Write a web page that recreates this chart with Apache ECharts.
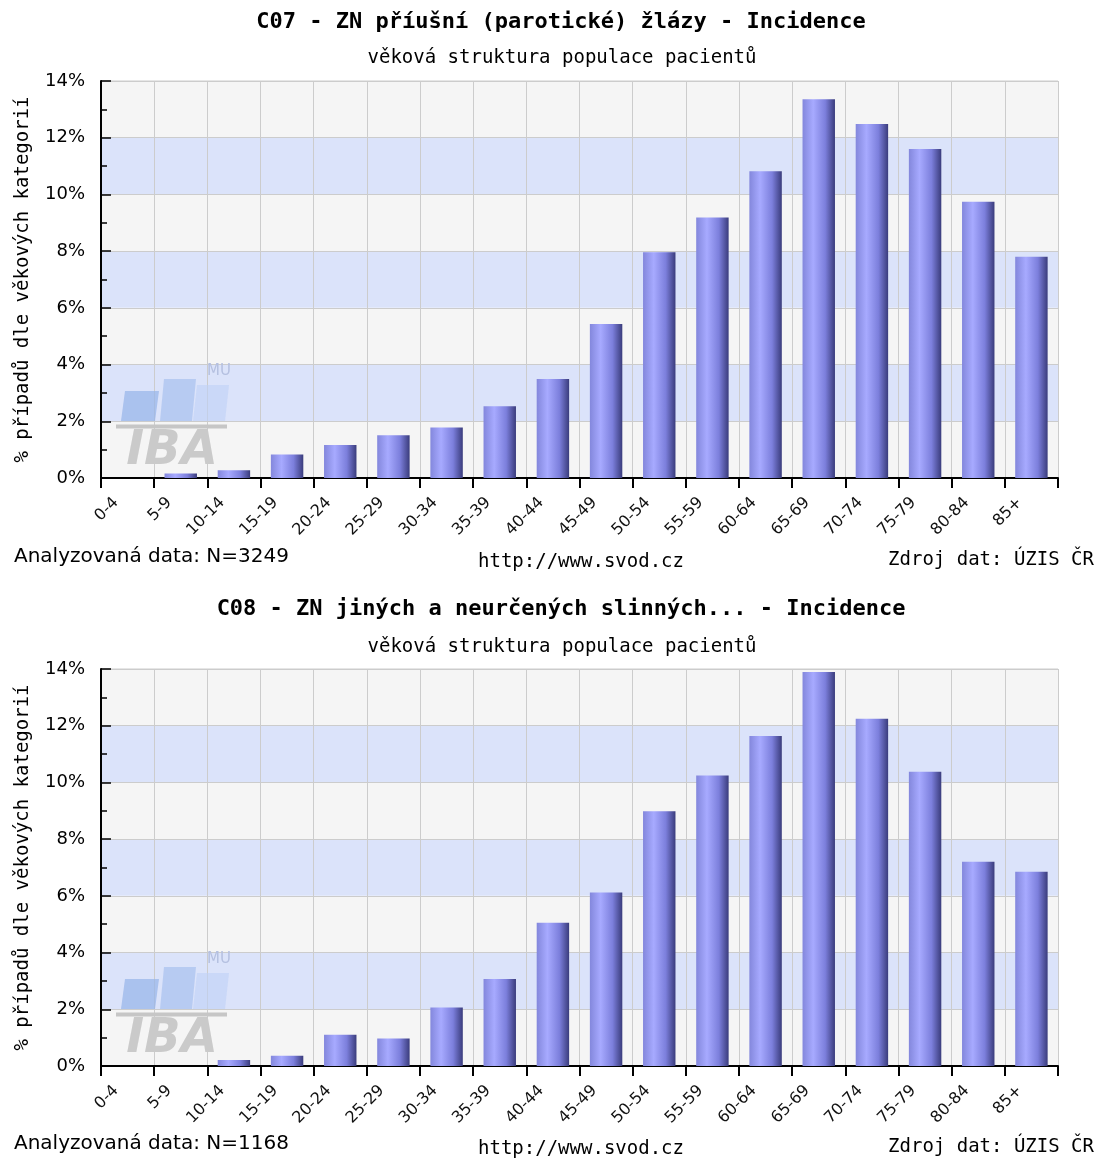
<!DOCTYPE html>
<html>
<head>
<meta charset="utf-8">
<script src="https://cdn.jsdelivr.net/npm/echarts@6/dist/echarts.min.js"></script>
<style>
html,body{margin:0;padding:0;background:#fff;}
#chart{width:1103px;height:1159px;}
</style>
</head>
<body>
<div id="chart"></div>
<script>
// ---- data ----
const categories = ['0-4','5-9','10-14','15-19','20-24','25-29','30-34','35-39','40-44','45-49','50-54','55-59','60-64','65-69','70-74','75-79','80-84','85+'];
const c07Values = [0, 0.16, 0.27, 0.83, 1.16, 1.51, 1.78, 2.53, 3.49, 5.43, 7.96, 9.19, 10.82, 13.36, 12.48, 11.6, 9.74, 7.8];
const c08Values = [0, 0, 0.21, 0.36, 1.10, 0.97, 2.06, 3.07, 5.05, 6.12, 8.98, 10.24, 11.64, 13.89, 12.25, 10.38, 7.2, 6.85];
const yMin = 0, yMax = 14, yInterval = 2;
const titles = ['C07 - ZN příušní (parotické) žlázy - Incidence', 'C08 - ZN jiných a neurčených slinných... - Incidence'];
const subtitle = 'věková struktura populace pacientů';
const nLabels = ['Analyzovaná data: N=3249', 'Analyzovaná data: N=1168'];
const urlText = 'http://www.svod.cz';
const sourceText = 'Zdroj dat: ÚZIS ČR';
const yName = '% případů dle věkových kategorií';

// ---- layout ----
const SANS = 'DejaVu Sans';
const MONO = 'DejaVu Sans Mono';
const panels = [
  {titleY: 22, subY: 58, top: 81, footY: [557, 562, 560]},
  {titleY: 609, subY: 647, top: 669, footY: [1144, 1149, 1147]}
];
const gridLeft = 101, gridW = 957, gridH = 397, labelShift = 15;

const chart = echarts.init(document.getElementById('chart'), null, {renderer: 'canvas'});

const barColor = {
  type: 'linear', x: 0, y: 0, x2: 1, y2: 0,
  colorStops: [
    {offset: 0, color: '#8387dc'},
    {offset: 0.33, color: '#a7aaff'},
    {offset: 0.7, color: '#7c7fdc'},
    {offset: 1, color: '#3a3c7c'}
  ]
};

const grid = [], xAxis = [], yAxis = [], series = [], title = [], graphic = [];
const seriesData = [c07Values, c08Values];

panels.forEach((p, i) => {
  const gMain = grid.length;
  grid.push({left: gridLeft, top: p.top, width: gridW, height: gridH, show: true, borderColor: '#cccccc', borderWidth: 1, backgroundColor: 'transparent'});
  const gLab = grid.length;
  grid.push({left: gridLeft + labelShift, top: p.top, width: gridW, height: gridH, show: false});

  const xMain = xAxis.length;
  xAxis.push({
    type: 'category', gridIndex: gMain, data: categories, boundaryGap: true,
    axisLine: {show: true, lineStyle: {color: '#000', width: 2}},
    axisTick: {show: true, interval: 0, length: 10, inside: false, lineStyle: {color: '#000', width: 2}},
    axisLabel: {show: false},
    splitLine: {show: true, interval: 0, lineStyle: {color: '#cccccc', width: 1}}
  });
  xAxis.push({
    type: 'category', gridIndex: gLab, data: categories.concat(['']), boundaryGap: false,
    axisLine: {show: false}, axisTick: {show: false}, splitLine: {show: false},
    axisLabel: {show: true, interval: 0, rotate: 45, margin: 22, color: '#111', fontFamily: SANS, fontSize: 16}
  });

  const yMain = yAxis.length;
  yAxis.push({
    type: 'value', gridIndex: gMain, min: yMin, max: yMax, interval: yInterval,
    name: yName, nameLocation: 'middle', nameGap: 68,
    nameTextStyle: {fontFamily: MONO, fontSize: 19, color: '#000'},
    axisLine: {show: true, lineStyle: {color: '#000', width: 2}},
    axisTick: {show: true, inside: true, length: 10, lineStyle: {color: '#000', width: 1.5}},
    minorTick: {show: true, splitNumber: 2, length: 6, lineStyle: {color: '#000', width: 1.5}},
    axisLabel: {formatter: '{value}%', color: '#000', fontFamily: SANS, fontSize: 18, margin: 16},
    splitLine: {show: true, lineStyle: {color: '#cccccc', width: 1}},
    splitArea: {show: true, areaStyle: {color: ['#f5f5f5', '#dbe3fa']}}
  });
  yAxis.push({type: 'value', gridIndex: gLab, show: false, min: yMin, max: yMax});

  series.push({
    type: 'bar', xAxisIndex: xMain, yAxisIndex: yMain, data: seriesData[i],
    barWidth: '61%', itemStyle: {color: barColor}, z: 3
  });

  title.push({text: titles[i], left: 561, top: p.titleY, textAlign: 'center', textVerticalAlign: 'middle', padding: 0,
    textStyle: {fontFamily: MONO, fontWeight: 'bold', fontSize: 22, color: '#000'}});
  title.push({text: subtitle, left: 562, top: p.subY, textAlign: 'center', textVerticalAlign: 'middle', padding: 0,
    textStyle: {fontFamily: MONO, fontWeight: 'normal', fontSize: 19, color: '#000'}});
  title.push({text: nLabels[i], left: 14, top: p.footY[0], textAlign: 'left', textVerticalAlign: 'middle', padding: 0,
    textStyle: {fontFamily: SANS, fontWeight: 'normal', fontSize: 20, color: '#000'}});
  title.push({text: urlText, left: 581, top: p.footY[1], textAlign: 'center', textVerticalAlign: 'middle', padding: 0,
    textStyle: {fontFamily: MONO, fontWeight: 'normal', fontSize: 19, color: '#000'}});
  title.push({text: sourceText, left: 1094, top: p.footY[2], textAlign: 'right', textVerticalAlign: 'middle', padding: 0,
    textStyle: {fontFamily: MONO, fontWeight: 'normal', fontSize: 19, color: '#000'}});

  // IBA watermark, positioned relative to plot bottom
  const b = p.top + gridH;
  const off = (x, y) => [x, b - (478 - y)];
  graphic.push(
    {type: 'polygon', z: 1, shape: {points: [off(121,421), off(155,421), off(159,391), off(125,391)]}, style: {fill: 'rgba(150,180,232,0.7)'}},
    {type: 'polygon', z: 1, shape: {points: [off(160,421), off(192,421), off(196,379), off(164,379)]}, style: {fill: 'rgba(165,190,238,0.65)'}},
    {type: 'polygon', z: 1, shape: {points: [off(193,421), off(225,421), off(229,385), off(197,385)]}, style: {fill: 'rgba(190,208,246,0.6)'}},
    {type: 'rect', z: 1, shape: {x: 116, y: b - (478 - 424.5), width: 111, height: 4}, style: {fill: '#c6c6c6'}},
    {type: 'text', z: 1, x: 172, y: b - (478 - 452), style: {text: 'IBA', fill: '#cacaca', font: 'italic bold 48px "DejaVu Sans"', align: 'center', verticalAlign: 'middle'}},
    {type: 'text', z: 1, x: 219, y: b - (478 - 371), style: {text: 'MU', fill: '#b5c0e0', font: '15px "DejaVu Sans"', align: 'center', verticalAlign: 'middle'}}
  );
});

chart.setOption({
  backgroundColor: '#ffffff',
  animation: false,
  title, grid, xAxis, yAxis, series, graphic
});
</script>
</body>
</html>
